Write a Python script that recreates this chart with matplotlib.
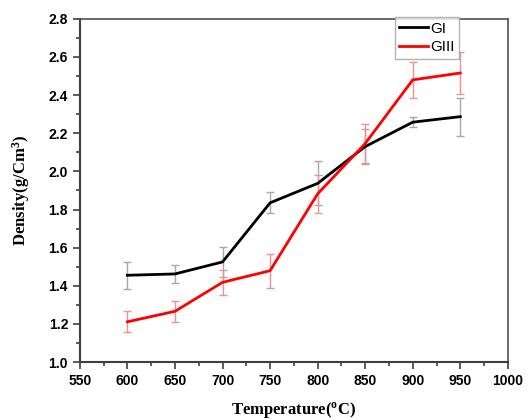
import matplotlib.pyplot as plt
import numpy as np
from matplotlib.ticker import MultipleLocator

temps = [600, 650, 700, 750, 800, 850, 900, 950]

gi = [1.455, 1.462, 1.525, 1.835, 1.937, 2.13, 2.258, 2.287]
gi_err = [0.07, 0.045, 0.08, 0.055, 0.115, 0.09, 0.025, 0.1]

giii = [1.211, 1.266, 1.418, 1.479, 1.882, 2.146, 2.48, 2.516]
giii_err = [0.055, 0.055, 0.065, 0.09, 0.1, 0.1, 0.095, 0.11]

fig = plt.figure(figsize=(5.29, 4.19), dpi=100)
ax = fig.add_axes([0.151, 0.136, 0.809, 0.819])

# error bars first, light coloured
ax.errorbar(temps, gi, yerr=gi_err, fmt='none', ecolor='#a8a8a8', elinewidth=1, capsize=3, capthick=1)
ax.errorbar(temps, giii, yerr=giii_err, fmt='none', ecolor='#f09090', elinewidth=1, capsize=3, capthick=1)
ax.plot(temps, gi, color='black', lw=2, label='GI')
ax.plot(temps, giii, color='#ff0000', lw=2, label='GIII')

ax.set_xlim(550, 1000)
ax.set_ylim(1.0, 2.8)
ax.xaxis.set_major_locator(MultipleLocator(50))
ax.xaxis.set_minor_locator(MultipleLocator(25))
ax.yaxis.set_major_locator(MultipleLocator(0.2))
ax.yaxis.set_minor_locator(MultipleLocator(0.1))
ax.tick_params(which='both', direction='out', width=1.2, color='#404040')
ax.tick_params(which='major', length=5)
ax.tick_params(which='minor', length=3)

for lab in ax.get_xticklabels() + ax.get_yticklabels():
    lab.set_fontfamily('Liberation Sans')
    lab.set_fontweight('bold')
    lab.set_fontsize(10)
ax.yaxis.set_major_formatter(plt.FormatStrFormatter('%.1f'))

for s in ['left', 'bottom']:
    ax.spines[s].set_color('#404040')
    ax.spines[s].set_linewidth(1.5)
for s in ['top', 'right']:
    ax.spines[s].set_color('#505050')
    ax.spines[s].set_linewidth(1.2)

ax.set_xlabel('Temperature($\\mathregular{^o}$C)', fontfamily='Liberation Serif', fontweight='bold', fontsize=12, labelpad=9)
ax.set_ylabel('Density(g/Cm$\\mathregular{^3}$)', fontfamily='Liberation Serif', fontweight='bold', fontsize=12, labelpad=12)

leg = ax.legend(loc='upper right', bbox_to_anchor=(0.886, 1.005), borderaxespad=0,
                prop={'family': 'Liberation Sans', 'size': 11}, fancybox=False,
                handlelength=1.9, handletextpad=0.1, borderpad=0.3, labelspacing=0.3)
leg.get_frame().set_edgecolor('#a0a0a0')
leg.get_frame().set_linewidth(1)

fig.savefig('out.png', dpi=100)
